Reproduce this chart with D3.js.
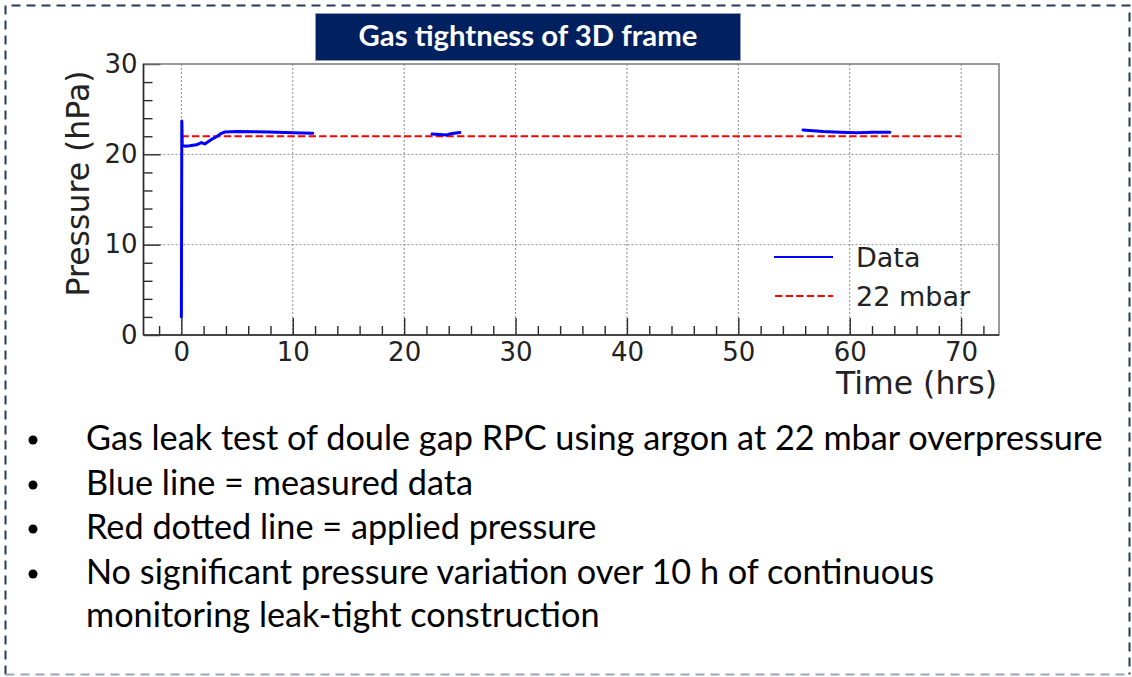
<!DOCTYPE html>
<html>
<head>
<meta charset="utf-8">
<script src="https://cdn.jsdelivr.net/npm/d3@7"></script>
<style>
  html, body { margin: 0; padding: 0; background: #ffffff; }
  svg { display: block; }
</style>
</head>
<body>
<svg id="chart" width="1132" height="677"></svg>
<script>
// Pressure readings (hours, hPa), logged in three separate runs
const runStart = [
  [0.0, 2.0], [0.04, 23.7], [0.08, 21.0], [0.3, 20.9], [0.75, 20.95],
  [1.35, 21.05], [1.8, 21.3], [2.1, 21.15], [2.4, 21.4], [2.7, 21.65],
  [3.15, 21.95], [3.6, 22.33], [3.9, 22.47], [4.9, 22.52], [6.5, 22.5],
  [7.9, 22.48], [10.0, 22.4], [11.8, 22.33]
];
const runDay2 = [
  [22.5, 22.25], [23.2, 22.2], [23.8, 22.15], [24.3, 22.3], [25.0, 22.42]
];
const runDay3 = [
  [55.8, 22.7], [56.4, 22.65], [57.6, 22.52], [59.1, 22.44],
  [60.6, 22.4], [62.1, 22.44], [63.6, 22.44]
];
const dataRuns = [runStart, runDay2, runDay3];

// Applied overpressure reference (22 mbar = 22 hPa), drawn from 0 to 70 h
const appliedPressure = 22;
const appliedSpan = [0, 70];

// Axis ticks
const xMajorTicks = [0, 10, 20, 30, 40, 50, 60, 70];
const xMinorTicks = [-2, 2, 4, 6, 8, 12, 14, 16, 18, 22, 24, 26, 28, 32, 34, 36, 38,
  42, 44, 46, 48, 52, 54, 56, 58, 62, 64, 66, 68, 72];
const yMajorTicks = [0, 10, 20, 30];
const yMinorTicks = [2, 4, 6, 8, 12, 14, 16, 18, 22, 24, 26, 28];

const legendLabels = ["Data", "22 mbar"];
const titleText = "Gas tightness of 3D frame";
const bulletLines = [
  { bullet: true,  text: "Gas leak test of doule gap RPC using argon at 22 mbar overpressure" },
  { bullet: true,  text: "Blue line = measured data" },
  { bullet: true,  text: "Red dotted line = applied pressure" },
  { bullet: true,  text: "No significant pressure variation over 10 h of continuous" },
  { bullet: false, text: "monitoring leak-tight construction" }
];

const svg = d3.select("#chart");

// Slide frame: dashed navy border, lighter along the bottom edge
const frame = { l: 5.5, t: 5.5, r: 1129.5, b: 674.5 };
svg.append("path")
  .attr("d", `M${frame.l},${frame.b} L${frame.l},${frame.t} L${frame.r},${frame.t} L${frame.r},${frame.b}`)
  .attr("fill", "none")
  .attr("stroke", "#223a63")
  .attr("stroke-width", 2)
  .attr("stroke-dasharray", "9 6");
svg.append("line")
  .attr("x1", frame.l).attr("x2", frame.r)
  .attr("y1", frame.b).attr("y2", frame.b)
  .attr("stroke", "#9aa5bb")
  .attr("stroke-width", 2)
  .attr("stroke-dasharray", "9 6");

// Plot geometry
const plot = { left: 143.5, right: 999, top: 64, bottom: 335 };
const x = d3.scaleLinear().domain([-3.4, 73.4]).range([plot.left, plot.right]);
const y = d3.scaleLinear().domain([0, 30]).range([plot.bottom, plot.top]);

const g = svg.append("g");

// Dotted grid
g.append("g").selectAll("line").data(xMajorTicks).join("line")
  .attr("x1", d => x(d)).attr("x2", d => x(d))
  .attr("y1", plot.top).attr("y2", plot.bottom)
  .attr("stroke", "#8a8a8a").attr("stroke-width", 1)
  .attr("stroke-dasharray", "2 2");
g.append("g").selectAll("line").data(yMajorTicks.filter(v => v > 0 && v < 30)).join("line")
  .attr("x1", plot.left).attr("x2", plot.right)
  .attr("y1", d => y(d)).attr("y2", d => y(d))
  .attr("stroke", "#8a8a8a").attr("stroke-width", 1)
  .attr("stroke-dasharray", "2 2");

// Axes with inward ticks
const xAxisMajor = d3.axisBottom(x).tickValues(xMajorTicks).tickSize(-17).tickPadding(8);
const xAxisMinor = d3.axisBottom(x).tickValues(xMinorTicks).tickSize(-9).tickFormat("");
const yAxisMajor = d3.axisLeft(y).tickValues(yMajorTicks).tickSize(-17).tickPadding(6);
const yAxisMinor = d3.axisLeft(y).tickValues(yMinorTicks).tickSize(-9).tickFormat("");

function styleAxis(sel) {
  sel.select(".domain").remove();
  sel.attr("font-size", null).attr("font-family", null);
  sel.selectAll(".tick line").attr("stroke", "#2a2a2a").attr("stroke-width", 1.4);
  sel.selectAll(".tick text")
    .attr("fill", "#222")
    .style("font-family", "'DejaVu Sans', sans-serif")
    .style("font-size", "26px");
}
g.append("g").attr("transform", `translate(0,${plot.bottom})`).call(xAxisMinor).call(styleAxis);
g.append("g").attr("transform", `translate(0,${plot.bottom})`).call(xAxisMajor).call(styleAxis);
g.append("g").attr("transform", `translate(${plot.left},0)`).call(yAxisMinor).call(styleAxis);
g.append("g").attr("transform", `translate(${plot.left},0)`).call(yAxisMajor).call(styleAxis);

// Plot frame
g.append("rect")
  .attr("x", plot.left).attr("y", plot.top)
  .attr("width", plot.right - plot.left).attr("height", plot.bottom - plot.top)
  .attr("fill", "none").attr("stroke", "#7a7a7a").attr("stroke-width", 1.5);
g.append("line")
  .attr("x1", plot.left).attr("x2", plot.right)
  .attr("y1", plot.bottom).attr("y2", plot.bottom)
  .attr("stroke", "#2a2a2a").attr("stroke-width", 1.5);
g.append("line")
  .attr("x1", plot.left).attr("x2", plot.left)
  .attr("y1", plot.top).attr("y2", plot.bottom)
  .attr("stroke", "#2a2a2a").attr("stroke-width", 1.5);

// Applied pressure line
g.append("line")
  .attr("x1", x(appliedSpan[0])).attr("x2", x(appliedSpan[1]))
  .attr("y1", y(appliedPressure)).attr("y2", y(appliedPressure))
  .attr("stroke", "#ff0000").attr("stroke-width", 2)
  .attr("stroke-dasharray", "7.4 3.2");

// Measured data
const line = d3.line().x(d => x(d[0])).y(d => y(d[1]));
g.append("g").selectAll("path").data(dataRuns).join("path")
  .attr("d", line)
  .attr("fill", "none")
  .attr("stroke", "#0000ff")
  .attr("stroke-width", 3)
  .attr("stroke-linejoin", "round")
  .attr("stroke-linecap", "round");

// Legend
const legend = g.append("g");
legend.append("line")
  .attr("x1", 774).attr("x2", 833).attr("y1", 257).attr("y2", 257)
  .attr("stroke", "#0000ff").attr("stroke-width", 2.2);
legend.append("line")
  .attr("x1", 775).attr("x2", 833).attr("y1", 296).attr("y2", 296)
  .attr("stroke", "#ff0000").attr("stroke-width", 2)
  .attr("stroke-dasharray", "7.4 3.2");
legend.selectAll("text").data(legendLabels).join("text")
  .attr("x", 856)
  .attr("y", (d, i) => 267 + i * 39)
  .attr("fill", "#222")
  .style("font-family", "'DejaVu Sans', sans-serif")
  .style("font-size", "27px")
  .text(d => d);

// Axis titles
g.append("text")
  .attr("transform", "translate(89,183.5) rotate(-90)")
  .attr("text-anchor", "middle")
  .attr("fill", "#222")
  .style("font-family", "'DejaVu Sans', sans-serif")
  .style("font-size", "31.5px")
  .text("Pressure (hPa)");
g.append("text")
  .attr("x", 997).attr("y", 394)
  .attr("text-anchor", "end")
  .attr("fill", "#222")
  .style("font-family", "'DejaVu Sans', sans-serif")
  .style("font-size", "31.5px")
  .text("Time (hrs)");

// Title banner
svg.append("rect")
  .attr("x", 315.5).attr("y", 13.5).attr("width", 425).attr("height", 47)
  .attr("fill", "#002060").attr("stroke", "#8f9bb3").attr("stroke-width", 1);
const title = svg.append("text")
  .attr("x", 528).attr("y", 46)
  .attr("text-anchor", "middle")
  .attr("fill", "#ffffff")
  .style("font-family", "Lato, 'Open Sans', sans-serif")
  .style("font-weight", "bold")
  .style("font-size", "24px")
  .text(titleText);
// size the banner text to its span
{
  const w = title.node().getComputedTextLength();
  title.style("font-size", (24 * 339 / w).toFixed(2) + "px");
}

// Bullet notes
const notes = svg.append("g");
const noteFont = "Lato, 'Open Sans', sans-serif";
const baselines = [450, 495, 539, 584, 627];
const noteTexts = notes.selectAll("text.note").data(bulletLines).join("text")
  .attr("class", "note")
  .attr("x", 86)
  .attr("y", (d, i) => baselines[i])
  .attr("fill", "#000")
  .style("font-family", noteFont)
  .style("font-size", "30px")
  .text(d => d.text);
{
  const w = noteTexts.nodes()[0].getComputedTextLength();
  noteTexts.style("font-size", (30 * 1017 / w).toFixed(2) + "px");
}
notes.selectAll("circle").data(bulletLines.filter(d => d.bullet)).join("circle")
  .attr("cx", 33)
  .attr("cy", (d, i) => baselines[i] - 10)
  .attr("r", 4.5)
  .attr("fill", "#000");
</script>
</body>
</html>
